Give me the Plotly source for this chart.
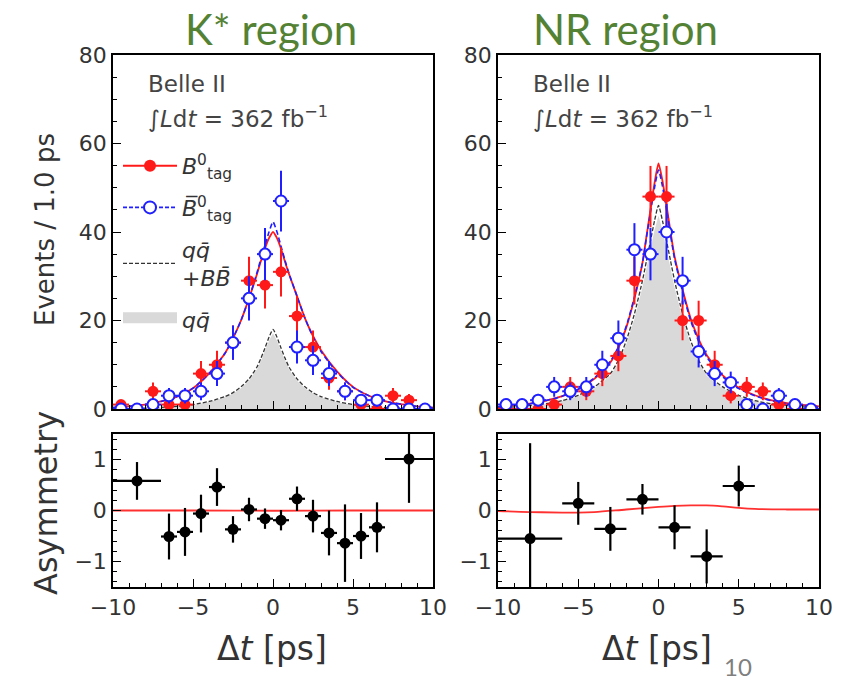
import plotly.graph_objects as go

W, H = 853, 680

# ---------------- data ----------------
bin_x = [-9.5, -8.5, -7.5, -6.5, -5.5, -4.5, -3.5, -2.5, -1.5, -0.5,
         0.5, 1.5, 2.5, 3.5, 4.5, 5.5, 6.5, 7.5, 8.5, 9.5]
bin_halfwidth = [0.5] * 20

# K* region counts
kst_b0 = [1, 0, 4, 1, 1, 8, 10, 15, 29, 28, 31, 21, 14, 7, 4, 1, 0, 3, 2, 0]
kst_b0_err = [1, 0, 2, 1, 1, 2.83, 3.16, 3.87, 5.39, 5.29, 5.57, 4.58, 3.74, 2.65, 2, 1, 0, 1.73, 1.41, 0]
kst_b0bar = [0, 0, 1, 3, 3, 4, 8, 15, 25, 35, 47, 14, 11, 8, 4, 2, 2, 0, 0, 0]
kst_b0bar_err = [0, 0, 1, 1.73, 1.73, 2, 2.83, 3.87, 5, 5.92, 6.86, 3.74, 3.32, 2.83, 2, 1.41, 1.41, 0, 0, 0]

# NR region counts
nr_b0 = [0, 0, 0, 1, 5, 4, 8, 12, 29, 48, 48, 20, 20, 10, 3, 5, 4, 1, 0, 0]
nr_b0_err = [0, 0, 0, 1, 2.24, 2, 2.83, 3.46, 5.39, 6.93, 6.93, 4.47, 4.47, 3.16, 1.73, 2.24, 2, 1, 0, 0]
nr_b0bar = [1, 1, 2, 5, 4, 5, 10, 16, 36, 35, 40, 29, 13, 8, 6, 1, 0, 3, 1, 0]
nr_b0bar_err = [1, 1, 1.41, 2.24, 2, 2.24, 3.16, 4, 6, 5.92, 6.32, 5.39, 3.61, 2.83, 2.45, 1, 0, 1.73, 1, 0]

# fit curves
curve_x = [-10, -9, -8, -7, -6, -5, -4, -3, -2.5, -2, -1.5, -1, -0.75, -0.5, -0.25, 0,
           0.25, 0.5, 0.75, 1, 1.5, 2, 2.5, 3, 4, 5, 6, 7, 8, 9, 10]
kst_fit_b0 = [0.3, 0.6, 1.0, 1.7, 2.8, 4.7, 8.0, 12.6, 16.0, 20.0, 25.0, 30.5, 33.5, 36.3, 38.6, 40.0,
              38.6, 36.2, 33.3, 30.5, 25.5, 20.5, 16.5, 13.3, 8.5, 5.0, 3.0, 1.8, 1.1, 0.6, 0.3]
kst_fit_b0bar = [0.3, 0.6, 1.0, 1.7, 2.8, 4.7, 8.0, 12.6, 16.0, 20.0, 25.0, 30.8, 34.0, 37.0, 40.0, 42.3,
                 40.0, 36.8, 33.6, 30.6, 25.5, 20.5, 16.3, 13.0, 8.3, 4.9, 3.0, 1.8, 1.1, 0.6, 0.3]
kst_bkg_all = [0.05, 0.1, 0.2, 0.35, 0.6, 1.0, 1.7, 2.8, 3.7, 5.0, 6.8, 9.5, 11.5, 13.8, 16.2, 18.0,
               16.2, 13.8, 11.5, 9.5, 6.8, 5.0, 3.7, 2.8, 1.7, 1.0, 0.6, 0.35, 0.2, 0.1, 0.05]
kst_bkg_qq = [0.05, 0.1, 0.18, 0.3, 0.55, 0.9, 1.6, 2.6, 3.5, 4.7, 6.4, 9.0, 10.9, 13.1, 15.4, 17.1,
              15.4, 13.1, 10.9, 9.0, 6.4, 4.7, 3.5, 2.6, 1.6, 0.9, 0.55, 0.3, 0.18, 0.1, 0.05]

nr_fit_b0 = [0.5, 0.8, 1.2, 1.9, 2.9, 4.4, 6.8, 10.5, 13.8, 18.5, 25.0, 33.0, 39.0, 45.0, 51.0, 55.5,
             51.5, 46.0, 40.0, 34.5, 27.0, 20.5, 15.8, 12.2, 7.6, 4.8, 3.1, 2.0, 1.3, 0.9, 0.6]
nr_fit_b0bar = [0.5, 0.8, 1.2, 1.9, 2.9, 4.5, 7.0, 10.8, 14.0, 18.8, 25.3, 33.0, 38.8, 44.5, 50.0, 54.0,
                50.3, 45.0, 39.3, 34.0, 26.5, 20.0, 15.3, 11.8, 7.3, 4.6, 3.0, 1.9, 1.2, 0.8, 0.5]
nr_bkg_all = [0.3, 0.5, 0.8, 1.2, 1.9, 3.1, 5.0, 8.0, 11.0, 15.5, 21.5, 29.0, 33.5, 38.0, 42.5, 46.0,
              42.5, 38.0, 33.5, 29.0, 21.5, 15.5, 11.0, 8.0, 5.0, 3.1, 1.9, 1.2, 0.8, 0.5, 0.3]
nr_bkg_qq = [0.28, 0.47, 0.75, 1.1, 1.8, 2.9, 4.7, 7.5, 10.4, 14.7, 20.4, 27.5, 31.8, 36.1, 40.4, 43.7,
             40.4, 36.1, 31.8, 27.5, 20.4, 14.7, 10.4, 7.5, 4.7, 2.9, 1.8, 1.1, 0.75, 0.47, 0.28]

# asymmetry, K* region
kst_asym_x = [-8.5, -6.5, -5.5, -4.5, -3.5, -2.5, -1.5, -0.5, 0.5, 1.5, 2.5, 3.5, 4.5, 5.5, 6.5, 8.5]
kst_asym_xerr = [1.5, 0.5, 0.5, 0.5, 0.5, 0.5, 0.5, 0.5, 0.5, 0.5, 0.5, 0.5, 0.5, 0.5, 0.5, 1.5]
kst_asym = [0.58, -0.51, -0.42, -0.06, 0.46, -0.37, 0.02, -0.16, -0.19, 0.23, -0.11, -0.44, -0.64, -0.50, -0.33, 1.01]
kst_asym_err = [0.37, 0.45, 0.47, 0.37, 0.37, 0.26, 0.23, 0.20, 0.20, 0.24, 0.32, 0.44, 0.76, 0.45, 0.49, 0.86]
kst_asym_curve_x = [-10, -5, 0, 5, 10]
kst_asym_curve = [0.0, 0.0, -0.005, 0.0, 0.0]

# asymmetry, NR region
nr_asym_x = [-8, -5, -3, -1, 1, 3, 5]
nr_asym_xerr = [2, 1, 1, 1, 1, 1, 1]
nr_asym = [-0.55, 0.14, -0.36, 0.22, -0.33, -0.90, 0.48]
nr_asym_err = [1.87, 0.42, 0.43, 0.30, 0.43, 0.53, 0.40]
nr_asym_curve_x = [-10, -8, -6, -5, -4, -2, 0, 1, 2, 3, 4, 5, 6, 8, 10]
nr_asym_curve = [-0.01, -0.03, -0.04, -0.04, -0.03, 0.02, 0.07, 0.09, 0.10, 0.10, 0.08, 0.05, 0.03, 0.02, 0.02]

x_ticks = [-10, -5, 0, 5, 10]

# ---------------- styling ----------------
RED = "#ff1a1a"
BLUE = "#1f1fff"
FONT = "DejaVu Sans"
TXT = "#333333"

fig = go.Figure()


def add_top(xa, ya, b0, b0e, bb, bbe, fb0, fbb, bkg, qq):
    fig.add_trace(go.Scatter(x=curve_x, y=qq, mode="lines", fill="tozeroy",
                             fillcolor="#d9d9d9", line=dict(width=0, color="#d9d9d9"),
                             xaxis=xa, yaxis=ya, showlegend=False))
    fig.add_trace(go.Scatter(x=curve_x, y=bkg, mode="lines",
                             line=dict(color="#333333", width=1.3, dash="4px,2px", shape="spline", smoothing=0.6),
                             xaxis=xa, yaxis=ya, showlegend=False))
    fig.add_trace(go.Scatter(x=curve_x, y=fb0, mode="lines",
                             line=dict(color=RED, width=1.8, shape="spline", smoothing=0.6),
                             xaxis=xa, yaxis=ya, showlegend=False))
    fig.add_trace(go.Scatter(x=curve_x, y=fbb, mode="lines",
                             line=dict(color=BLUE, width=1.6, dash="5px,3px", shape="spline", smoothing=0.6),
                             xaxis=xa, yaxis=ya, showlegend=False))
    fig.add_trace(go.Scatter(x=bin_x, y=b0, mode="markers",
                             marker=dict(color=RED, size=11, symbol="circle", line=dict(width=0)),
                             error_y=dict(type="data", array=b0e, color=RED, thickness=2, width=0),
                             error_x=dict(type="data", array=bin_halfwidth, color=RED, thickness=2, width=0),
                             xaxis=xa, yaxis=ya, showlegend=False))
    fig.add_trace(go.Scatter(x=bin_x, y=bb, mode="markers",
                             marker=dict(color="white", size=11, symbol="circle", line=dict(width=2, color=BLUE)),
                             error_y=dict(type="data", array=bbe, color=BLUE, thickness=2, width=0),
                             error_x=dict(type="data", array=bin_halfwidth, color=BLUE, thickness=2, width=0),
                             xaxis=xa, yaxis=ya, showlegend=False))


add_top("x", "y", kst_b0, kst_b0_err, kst_b0bar, kst_b0bar_err,
        kst_fit_b0, kst_fit_b0bar, kst_bkg_all, kst_bkg_qq)
add_top("x3", "y3", nr_b0, nr_b0_err, nr_b0bar, nr_b0bar_err,
        nr_fit_b0, nr_fit_b0bar, nr_bkg_all, nr_bkg_qq)

# legend-only entries (no data, shown in the legend of the K* panel)
fig.add_trace(go.Scatter(x=[None], y=[None], mode="lines+markers", legendgroup="a",
                         marker=dict(color=RED, size=12), line=dict(color=RED, width=2),
                         name="<i>B</i><sup>0</sup><sub>tag</sub>", xaxis="x", yaxis="y"))
fig.add_trace(go.Scatter(x=[None], y=[None], mode="lines+markers", legendgroup="b",
                         marker=dict(color="white", size=12, line=dict(width=2, color=BLUE)),
                         line=dict(color=BLUE, width=1.6, dash="4px,2px"),
                         name="<i>B\u0305</i><sup>0</sup><sub>tag</sub>", xaxis="x", yaxis="y"))
fig.add_trace(go.Scatter(x=[None], y=[None], mode="lines", legendgroup="c",
                         line=dict(color="#333333", width=1.3, dash="4px,2px"),
                         name="<i>q</i><i>q\u0304</i><br>+<i>B</i><i>B\u0304</i>", xaxis="x", yaxis="y"))
fig.add_trace(go.Scatter(x=[None], y=[None], mode="lines", fill="toself", legendgroup="d",
                         fillcolor="#d9d9d9", line=dict(width=16, color="#d9d9d9"),
                         name="<i>q</i><i>q\u0304</i>", xaxis="x", yaxis="y"))


def add_asym(xa, ya, ax, axe, ay, aye, cx, cy):
    fig.add_trace(go.Scatter(x=cx, y=cy, mode="lines",
                             line=dict(color="#ff3030", width=1.8, shape="spline"),
                             xaxis=xa, yaxis=ya, showlegend=False))
    fig.add_trace(go.Scatter(x=ax, y=ay, mode="markers",
                             marker=dict(color="black", size=11),
                             error_y=dict(type="data", array=aye, color="black", thickness=2.2, width=0),
                             error_x=dict(type="data", array=axe, color="black", thickness=2.2, width=0),
                             xaxis=xa, yaxis=ya, showlegend=False))


add_asym("x2", "y2", kst_asym_x, kst_asym_xerr, kst_asym, kst_asym_err,
         kst_asym_curve_x, kst_asym_curve)
add_asym("x4", "y4", nr_asym_x, nr_asym_xerr, nr_asym, nr_asym_err,
         nr_asym_curve_x, nr_asym_curve)

# ---------------- axes ----------------
xL = [113 / W, 433 / W]
xR = [498 / W, 819 / W]
yT = [1 - 409 / H, 1 - 55 / H]
yB = [1 - 587 / H, 1 - 434 / H]

common = dict(showline=True, linecolor="black", linewidth=1.5, mirror=True,
              ticks="inside", ticklen=8, tickwidth=1.3, tickcolor="black",
              showgrid=False, zeroline=False, automargin=False,
              tickfont=dict(family=FONT, size=22, color=TXT))

xcommon = dict(common, range=[-10, 10], tickmode="array", tickvals=x_ticks,
               minor=dict(tickmode="linear", tick0=0, dtick=1, ticklen=4, tickwidth=1.1,
                          tickcolor="black", ticks="inside", showgrid=False))
ytop = dict(common, range=[0, 80], tickmode="linear", tick0=0, dtick=20,
            minor=dict(tickmode="linear", tick0=0, dtick=5, ticklen=4, tickwidth=1.1,
                       tickcolor="black", ticks="inside", showgrid=False))
ybot = dict(common, range=[-1.5, 1.5], tickmode="linear", tick0=0, dtick=1,
            minor=dict(tickmode="linear", tick0=0, dtick=0.2, ticklen=4, tickwidth=1.1,
                       tickcolor="black", ticks="inside", showgrid=False))

fig.update_layout(
    width=W, height=H,
    margin=dict(l=0, r=0, t=0, b=0, autoexpand=False),
    paper_bgcolor="white", plot_bgcolor="white",
    xaxis=dict(xcommon, domain=xL, anchor="y", showticklabels=False),
    yaxis=dict(ytop, domain=yT, anchor="x"),
    xaxis2=dict(xcommon, domain=xL, anchor="y2"),
    yaxis2=dict(ybot, domain=yB, anchor="x2"),
    xaxis3=dict(xcommon, domain=xR, anchor="y3", showticklabels=False),
    yaxis3=dict(ytop, domain=yT, anchor="x3"),
    xaxis4=dict(xcommon, domain=xR, anchor="y4"),
    yaxis4=dict(ybot, domain=yB, anchor="x4"),
    legend=dict(x=118 / W, y=1 - 145 / H, xanchor="left", yanchor="top",
                bgcolor="rgba(0,0,0,0)", font=dict(family=FONT, size=22, color=TXT),
                itemwidth=54, tracegroupgap=10, traceorder="grouped"),
    showlegend=True,
)

ann = []


def paper_text(text, x, y, size, color=TXT, family=FONT, xanchor="center", angle=0):
    ann.append(dict(text=text, x=x / W, y=1 - y / H, xref="paper", yref="paper",
                    showarrow=False, xanchor=xanchor, yanchor="middle", textangle=angle,
                    font=dict(family=family, size=size, color=color)))


GREEN = "#548235"
paper_text("K* region", 271, 29, 42, GREEN, "Lato")
paper_text("NR region", 625, 29, 42, GREEN, "Lato")
for x0 in (146, 531):
    paper_text("Belle II", x0, 84, 23, "#444444", xanchor="left")
    paper_text("\u222b<i>L</i>d<i>t</i> = 362 fb<sup>\u22121</sup>", x0, 117, 23, "#444444", xanchor="left")
paper_text("Events / 1.0 ps", 45, 230, 26, angle=-90)
paper_text("Asymmetry", 46, 503, 32, angle=-90)
paper_text("\u0394<i>t</i> [ps]", 272, 648, 33)
paper_text("\u0394<i>t</i> [ps]", 657, 648, 33)
paper_text("10", 738, 666, 24, "#7f7f7f", "Lato")

fig.update_layout(annotations=ann)

fig.write_html("out.html")
